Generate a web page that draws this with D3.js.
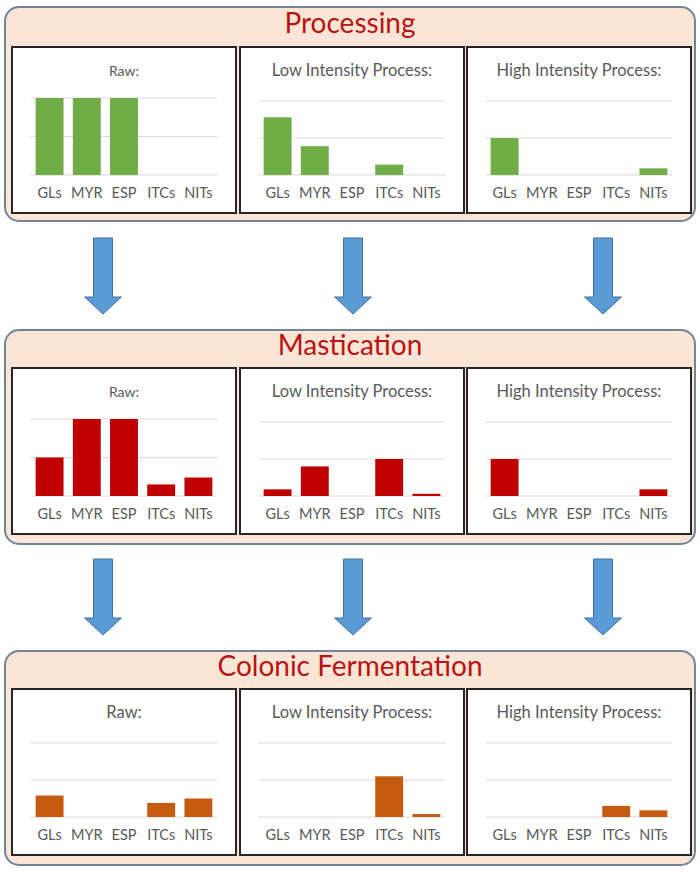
<!DOCTYPE html>
<html lang="en">
<head>
    <meta charset="UTF-8">
    <title>Processing, mastication and colonic fermentation</title>
    <script src="https://cdn.jsdelivr.net/npm/d3@7/dist/d3.min.js"></script>
    <style>
        body{
            margin: 0;
            background: white;
            font-family: Lato, sans-serif;
        }
        .stageTitle{
            font-size: 28px;
            fill: #b81414;
        }
        .panelTitle{
            fill: #595959;
        }
        .xAxis text{
            font-family: Lato, sans-serif;
            font-size: 14.5px;
            fill: #595959;
        }
        .xAxis path, .xAxis line{
            stroke: none;
        }
        .grid line{
            stroke: #d9d9d9;
            stroke-width: 1;
        }
    </style>
</head>
<body>
<svg id="main" width="700" height="872" viewBox="0 0 700 872"></svg>
<script>
    // data
    const stages = ["Processing", "Mastication", "Colonic Fermentation"];
    const processes = ["Raw:", "Low Intensity Process:", "High Intensity Process:"];
    const compounds = ["GLs", "MYR", "ESP", "ITCs", "NITs"];
    const yTicks = [0, 50, 100];

    // one row per process (raw, low, high), values per compound
    const processingValues = [[100, 100, 100, 0, 0], [78, 39, 0, 14, 0], [50, 0, 0, 0, 9]];
    const masticationValues = [[50, 100, 100, 15, 24], [9, 40, 0, 50, 3], [50, 0, 0, 0, 9]];
    const colonicValues = [[29, 0, 0, 19, 25], [0, 0, 0, 55, 4], [0, 0, 0, 15, 9]];

    const stageValues = [processingValues, masticationValues, colonicValues];
    const barColors = ["#70ad47", "#c00000", "#c55a11"];

    // layout
    const sectionTop = [7, 330, 651];
    const sectionHeight = 214;
    const panelX = [12, 240, 467];
    const panelW = 224, panelH = 166;
    const arrowTop = [238, 559];
    const arrowX = [103, 353, 603];

    const svg = d3.select("svg#main");

    const xScale = d3.scaleBand()
        .domain(compounds)
        .range([19, 205])
        .paddingInner(0.25)
        .paddingOuter(0.125);

    stages.forEach((stage, s) => {
        const top = sectionTop[s];
        const section = svg.append("g").attr("transform", `translate(0,${top})`);

        section.append("rect")
            .attr("x", 5).attr("y", 0)
            .attr("width", 690).attr("height", sectionHeight)
            .attr("rx", 14)
            .attr("fill", "#fbe5d6")
            .attr("stroke", "#71849a")
            .attr("stroke-width", 2);

        section.append("text")
            .attr("class", "stageTitle")
            .attr("x", 350).attr("y", s === 0 ? 26 : 25)
            .attr("text-anchor", "middle")
            .text(stage);

        const panelTop = s === 0 ? 40 : 38;

        processes.forEach((proc, p) => {
            // smaller titles on the first raw panels
            const small = p === 0 && s < 2;
            const panel = section.append("g")
                .attr("transform", `translate(${panelX[p]},${panelTop})`);

            panel.append("rect")
                .attr("width", panelW).attr("height", panelH)
                .attr("fill", "white")
                .attr("stroke", "#262626")
                .attr("stroke-width", 2);

            panel.append("text")
                .attr("class", "panelTitle")
                .attr("x", 112).attr("y", 29)
                .attr("text-anchor", "middle")
                .style("font-size", small ? "14px" : "16.5px")
                .text(proc);

            const yScale = d3.scaleLinear()
                .domain([0, 100])
                .range([128, small ? 51 : 54]);

            panel.append("g")
                .attr("class", "grid")
                .selectAll("line")
                .data(yTicks)
                .join("line")
                .attr("x1", 19).attr("x2", 205)
                .attr("y1", d => yScale(d)).attr("y2", d => yScale(d));

            const values = stageValues[s][p];
            panel.append("g")
                .selectAll("rect")
                .data(compounds)
                .join("rect")
                .attr("x", d => xScale(d))
                .attr("width", xScale.bandwidth())
                .attr("y", (d, i) => yScale(values[i]))
                .attr("height", (d, i) => yScale(0) - yScale(values[i]))
                .attr("fill", barColors[s]);

            panel.append("g")
                .attr("class", "xAxis")
                .attr("transform", `translate(0,${128})`)
                .call(d3.axisBottom(xScale).tickSize(0).tickPadding(13));
        });
    });

    // blue arrows between sections
    const arrow = (x, y) => {
        const len = 76, shaft = 9.5, head = 18.5, headLen = 17;
        return `M${x - shaft},${y} L${x + shaft},${y} L${x + shaft},${y + len - headLen}
                L${x + head},${y + len - headLen} L${x},${y + len} L${x - head},${y + len - headLen}
                L${x - shaft},${y + len - headLen} Z`;
    };
    arrowTop.forEach(y => {
        svg.append("g")
            .selectAll("path")
            .data(arrowX)
            .join("path")
            .attr("d", x => arrow(x, y))
            .attr("fill", "#5b9bd5")
            .attr("stroke", "#41719c")
            .attr("stroke-width", 1);
    });
</script>
</body>
</html>
